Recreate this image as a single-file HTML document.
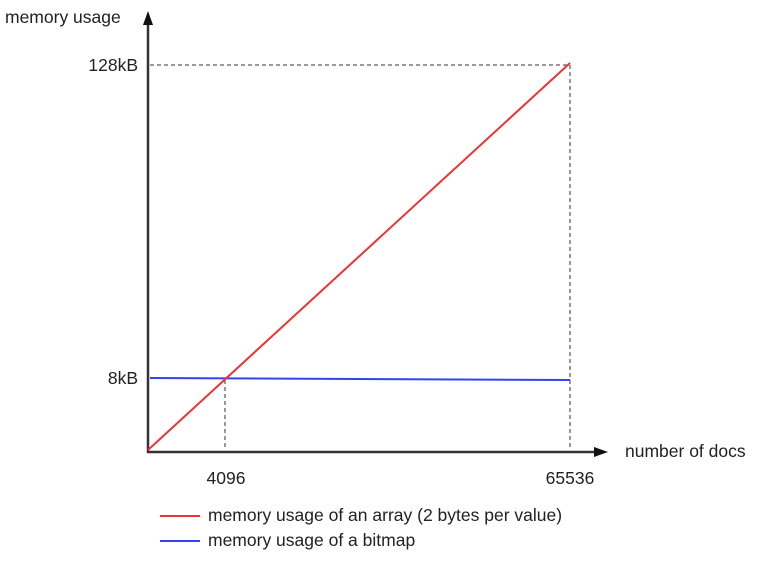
<!DOCTYPE html>
<html><head><meta charset="utf-8"><style>body{margin:0;background:#fff}</style></head><body>
<svg width="769" height="559" xmlns="http://www.w3.org/2000/svg" font-family="Liberation Sans, sans-serif" font-size="17.5" fill="#222">
<line x1="148" y1="22" x2="148" y2="453" stroke="#333" stroke-width="2.5"/>
<polygon points="148,11 143,25 153,25" fill="#111"/>
<line x1="147" y1="452" x2="596" y2="452" stroke="#333" stroke-width="2.5"/>
<polygon points="608,452 594,447 594,457" fill="#111"/>
<g stroke="#333" stroke-width="1" stroke-dasharray="4,3" fill="none">
<line x1="150" y1="65" x2="570" y2="65"/>
<line x1="570" y1="65" x2="570" y2="450"/>
<line x1="225" y1="380" x2="225" y2="450"/>
</g>
<line x1="150" y1="378" x2="570" y2="380" stroke="#3344ee" stroke-width="2"/>
<line x1="148" y1="450" x2="570" y2="63" stroke="#ee3333" stroke-width="2"/>
<text x="5" y="23">memory usage</text>
<text x="138" y="71" text-anchor="end">128kB</text>
<text x="138" y="384" text-anchor="end">8kB</text>
<text x="625" y="457">number of docs</text>
<text x="226" y="484" text-anchor="middle">4096</text>
<text x="570" y="484" text-anchor="middle">65536</text>
<line x1="160" y1="516" x2="200" y2="516" stroke="#ee3333" stroke-width="2"/>
<text x="208" y="521">memory usage of an array (2 bytes per value)</text>
<line x1="160" y1="541" x2="200" y2="541" stroke="#3344ee" stroke-width="2"/>
<text x="208" y="546">memory usage of a bitmap</text>
</svg>
</body></html>
